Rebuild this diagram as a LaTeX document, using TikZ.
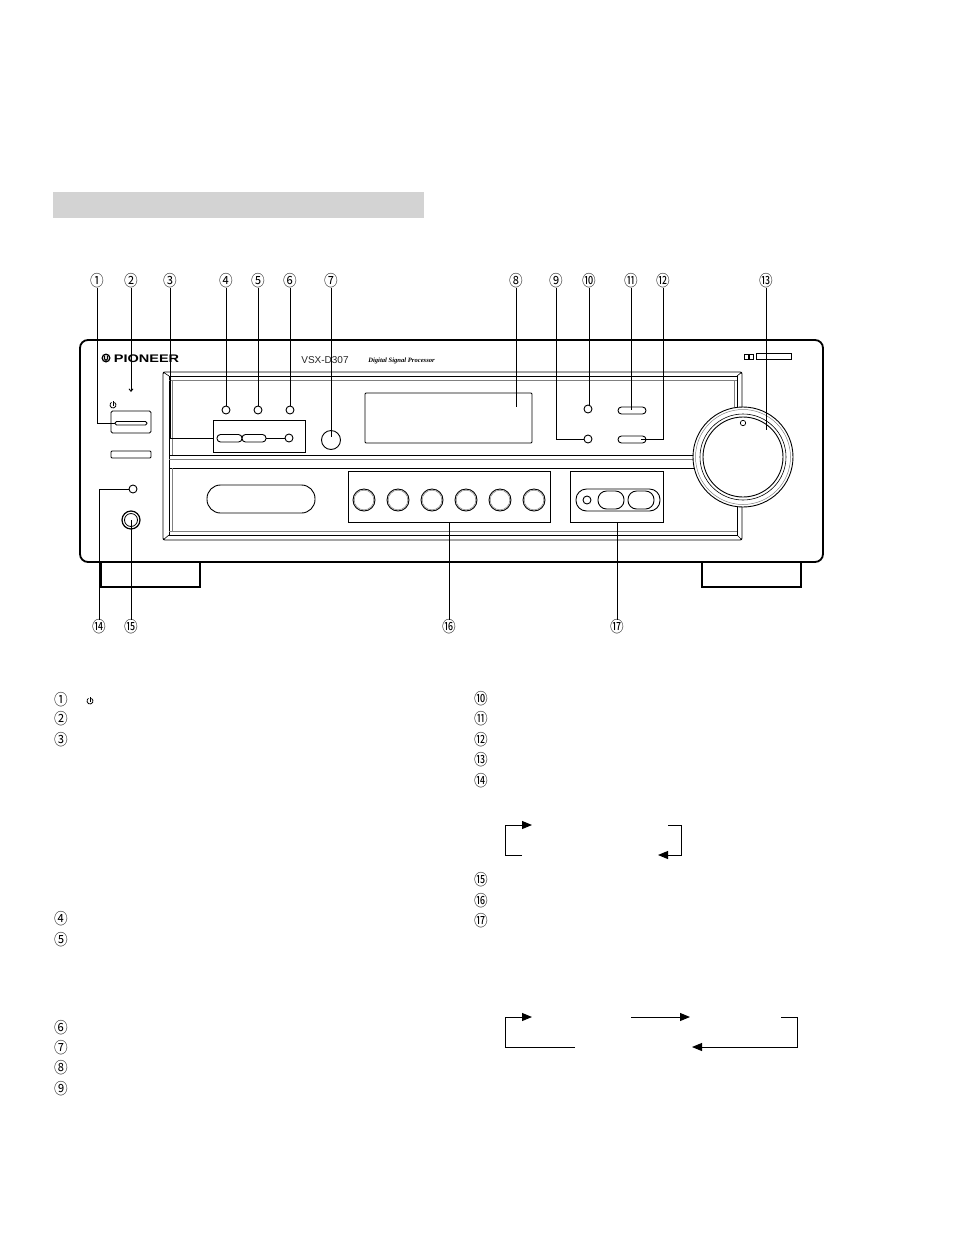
\documentclass[tikz,border=0pt]{standalone}
\usepackage{fontspec}
\setmainfont{DejaVu Sans}
\newfontfamily\lsans{Liberation Sans}
\newfontfamily\lserif{Liberation Serif}
\newfontfamily\cjk{Noto Sans CJK JP}
\usetikzlibrary{arrows.meta}
\definecolor{barg}{HTML}{D3D3D3}
\begin{document}
\begin{tikzpicture}[x=1pt,y=-1pt,
  num/.style={font=\cjk\fontsize{15.5}{15.5}\selectfont, inner sep=0pt, xscale=0.88},
  lead/.style={line width=0.9pt},
  panel/.style={line width=1.8pt},
  part/.style={line width=0.9pt},
  gl/.style={line width=0.7pt, draw=gray},
  arr/.style={line width=1pt,-{Triangle[length=10pt,width=8pt]}},
  brk/.style={line width=1pt},
  led/.style={line width=0.9pt},
  pwr/.pic={\draw[line width=0.8pt] (-60:3) arc (-60:240:3); \draw[line width=0.8pt] (0,0.5) -- (0,-4);}]
\useasboundingbox (0,0) rectangle (954,1235);
% title bar
\fill[barg] (53,192) rectangle (424,218);

% ---------- receiver body ----------
\draw[panel, rounded corners=8pt] (80,340) rectangle (823,562);
\draw[line width=1.4pt] (101,562) -- (101,587) -- (200,587) -- (200,562);
\draw[line width=1.4pt] (702,562) -- (702,587) -- (801,587) -- (801,562);

% logo
\draw[line width=1.3pt] (106,358) circle (3.8);
\draw[line width=1pt] (104.6,355.5) -- (104.6,359) arc (180:0:1.4) -- (107.4,355.5);
\node[font=\lsans\bfseries\fontsize{11}{11}\selectfont, xscale=1.32, inner sep=0pt] (brand) at (146.5,358.5) {PIONEER};
\node[font=\lsans\fontsize{10}{10}\selectfont, inner sep=0pt, text=black!85] (model) at (325,360) {VSX-D307};
\node[font=\lserif\bfseries\itshape\fontsize{6.6}{6.6}\selectfont, inner sep=0pt] (dsp) at (401.5,360.5) {Digital Signal Processor};
% dolby logo
\draw[line width=1pt] (744,354) rectangle (748,359);
\draw[line width=1pt] (749,354) rectangle (753,359);
\draw[line width=0.9pt] (756,353) rectangle (791,359);

% inner recessed frame
\draw[part, rounded corners=2pt] (163,372) rectangle (742,540);
\draw[part] (169,376) rectangle (737,535);
\draw[gl] (169,380) -- (737,380);
\draw[gl] (172,380) -- (172,455);
\draw[gl] (734,380) -- (734,455);
\draw[line width=0.6pt] (163,372) -- (169,376) (742,372) -- (737,376) (163,540) -- (169,535) (742,540) -- (737,535);
\draw[part] (169,455) -- (737,455);
\draw[gl] (169,459) -- (737,459);
\draw[part] (169,468) -- (737,468);
\draw[gl] (169,531) -- (737,531);
\draw[gl] (172,468) -- (172,531);

% left controls
\pic at (113,405) {pwr};
\draw[part, rounded corners=1.5pt] (111,411) rectangle (151,433);
\draw[line width=0.8pt, rounded corners=1.5pt] (115,421.5) rectangle (147,425);
\draw[part, rounded corners=1pt] (111,451) rectangle (151,458);
\draw[led] (133,489) circle (4);
\draw[line width=1.2pt, fill=white] (131,520) circle (9);
\draw[line width=0.8pt] (131,520) circle (6.5);

% box 3
\draw[part] (213,420) rectangle (305,452);
\draw[part, rounded corners=3.5pt] (217,434.5) rectangle (242,442);
\draw[part, rounded corners=3.5pt] (242,434.5) rectangle (266,442);
\draw[part] (266,438) -- (285,438);
\draw[led] (289,438) circle (4);
% leds 4 5 6
\draw[led] (226,410) circle (4);
\draw[led] (258,410) circle (4);
\draw[led] (290,410) circle (4);
% button 7
\draw[part] (331,440) circle (9.5);
% display 8
\draw[part, rounded corners=1pt] (365,393) rectangle (532,443);
% leds 9 10, buttons 11 12
\draw[led] (588,409) circle (4);
\draw[led] (588,439) circle (4);
\draw[part, rounded corners=3.5pt] (618,407) rectangle (646,414);
\draw[part, rounded corners=3.5pt] (618,436) rectangle (646,443);

% lower section
\draw[part, rounded corners=13.5pt] (207,485) rectangle (315,513);
\draw[part] (348,471) rectangle (550,522);
\foreach \cx in {364,398,432,466,500,534} {
  \draw[line width=0.9pt] (\cx,500) circle (11);
  \draw[line width=0.5pt, draw=gray] (\cx,500) circle (9.8);
}
\draw[part] (570,471) rectangle (663,522);
\draw[part, rounded corners=10.5pt] (576,489) rectangle (660,511);
\draw[led] (587,500) circle (4);
\draw[part, rounded corners=8.5pt] (598,491) rectangle (624,509);
\draw[part, rounded corners=8.5pt] (628,491) rectangle (654,509);

% volume knob
\draw[line width=0.9pt, fill=white] (743,457) circle (50);
\draw[line width=0.5pt, draw=gray] (743,457) circle (47.5);
\draw[line width=0.6pt] (743,457) circle (43);
\draw[line width=0.9pt] (743,457) circle (40);
\draw[line width=0.7pt] (743,423) circle (2.7);

% ---------- callout labels ----------
\node[num] (n1) at (97,281) {①};
\node[num] (n2) at (131,281) {②};
\node[num] (n3) at (170,281) {③};
\node[num] (n4) at (226,281) {④};
\node[num] (n5) at (258,281) {⑤};
\node[num] (n6) at (290,281) {⑥};
\node[num] (n7) at (331,281) {⑦};
\node[num] (n8) at (516,281) {⑧};
\node[num] (n9) at (556,281) {⑨};
\node[num] (n10) at (589,281) {⑩};
\node[num] (n11) at (631,281) {⑪};
\node[num] (n12) at (663,281) {⑫};
\node[num] (n13) at (766,281) {⑬};
\node[num] (n14) at (99,627) {⑭};
\node[num] (n15) at (131,627) {⑮};
\node[num] (n16) at (449,627) {⑯};
\node[num] (n17) at (617,627) {⑰};

\coordinate (t1) at (115,423);
\coordinate (t2) at (131,392);
\coordinate (t3) at (213,438);
\coordinate (t4) at (226,406);
\coordinate (t5) at (258,406);
\coordinate (t6) at (290,406);
\coordinate (t7) at (331,437);
\coordinate (t8) at (516,407);
\coordinate (t9) at (584,439);
\coordinate (t10) at (588,405);
\coordinate (t11) at (631,410);
\coordinate (t12) at (641,439);
\coordinate (t13) at (766,430);
\coordinate (t14) at (129,489);
\coordinate (t15) at (131,520);
\coordinate (t16) at (449,522);
\coordinate (t17) at (617,522);

\draw[lead] (n1.south) -- (n1.south |- t1) -- (t1);
\draw[lead, -{Straight Barb[length=2.5pt,width=4pt]}] (n2.south) -- (t2);
\draw[lead] (n3.south) -- (n3.south |- t3) -- (t3);
\draw[lead] (n4.south) -- (t4);
\draw[lead] (n5.south) -- (t5);
\draw[lead] (n6.south) -- (t6);
\draw[lead] (n7.south) -- (t7);
\draw[lead] (n8.south) -- (t8);
\draw[lead] (n9.south) -- (n9.south |- t9) -- (t9);
\draw[lead] (n10.south) -- (n10.south |- t10);
\draw[lead] (n11.south) -- (t11);
\draw[lead] (n12.south) -- (n12.south |- t12) -- (t12);
\draw[lead] (n13.south) -- (t13);
\draw[lead] (n14.north) -- (n14.north |- t14) -- (t14);
\draw[lead] (n15.north) -- (t15);
\draw[lead] (n16.north) -- (t16);
\draw[lead] (n17.north) -- (t17);

% ---------- description list ----------
\node[num] (l1) at (61,700) {①};
\pic at (90,701) {pwr};
\node[num] (l2) at (61,719) {②};
\node[num] (l3) at (61,740) {③};
\node[num] (l4) at (61,919) {④};
\node[num] (l5) at (61,940) {⑤};
\node[num] (l6) at (61,1028) {⑥};
\node[num] (l7) at (61,1048) {⑦};
\node[num] (l8) at (61,1068) {⑧};
\node[num] (l9) at (61,1089) {⑨};
\node[num] (l10) at (481,699) {⑩};
\node[num] (l11) at (481,719) {⑪};
\node[num] (l12) at (481,740) {⑫};
\node[num] (l13) at (481,760) {⑬};
\node[num] (l14) at (481,781) {⑭};
\node[num] (l15) at (481,880) {⑮};
\node[num] (l16) at (481,901) {⑯};
\node[num] (l17) at (481,921) {⑰};

% cycle arrows (14)
\coordinate (a1) at (522,855);
\coordinate (a2) at (532,825);
\coordinate (a3) at (668,825);
\coordinate (a4) at (658,855);
\draw[arr] (a1) -- (505,855) -- (505,825) -- (a2);
\draw[arr] (a3) -- (681,825) -- (681,855) -- (a4);
% cycle arrows (17)
\coordinate (b1) at (575,1047);
\coordinate (b2) at (532,1017);
\coordinate (b3) at (631,1017);
\coordinate (b4) at (690,1017);
\coordinate (b5) at (781,1017);
\coordinate (b6) at (692,1047);
\draw[arr] (b1) -- (505,1047) -- (505,1017) -- (b2);
\draw[arr] (b3) -- (b4);
\draw[arr] (b5) -- (797,1017) -- (797,1047) -- (b6);
\end{tikzpicture}
\end{document}
